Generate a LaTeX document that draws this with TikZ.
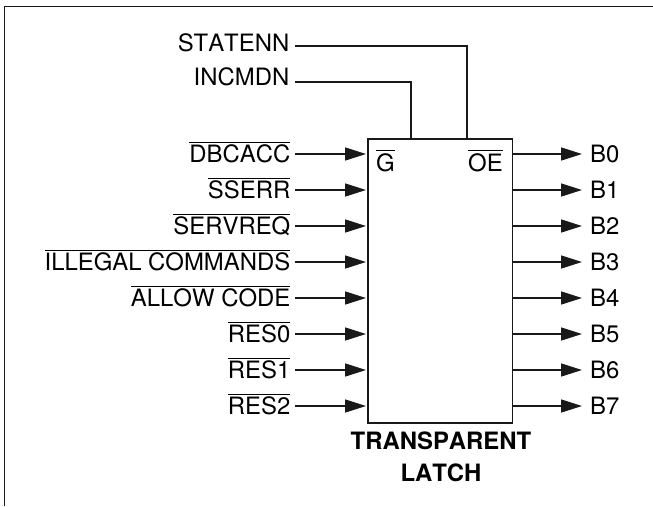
\documentclass[tikz,border=0pt]{standalone}
\usepackage{fontspec}
\setmainfont[Kerning=Off]{TeX Gyre Heros}
\usetikzlibrary{arrows.meta}
\tikzset{
  x=1pt,y=-1pt,
  wire/.style={line width=1.5pt,black!90},
  sig/.style={wire,-{Triangle[length=21pt,width=13pt]}},
  lbl/.style={inner sep=0pt,font=\fontsize{23.9}{26}\selectfont,anchor=base east},
  rlbl/.style={inner sep=0pt,font=\fontsize{23.9}{26}\selectfont,anchor=base west},
  captxt/.style={inner sep=0pt,font=\fontsize{23.9}{26}\selectfont\bfseries,anchor=base},
}
\newcommand{\ovl}[1]{\setbox0=\hbox{#1}\rlap{\rule[20pt]{\wd0}{0.9pt}}\box0}
\begin{document}
\begin{tikzpicture}
\useasboundingbox (0,0) rectangle (653,506);
\draw[wire] (4.5,506) -- (4.5,6.5) -- (653,6.5);
\node[draw=black!90,line width=1.5pt,minimum width=144.5pt,minimum height=284pt,inner sep=0pt,anchor=north west] (latch) at (367,138) {};
\node[lbl] (st) at (289.5,51.5) {STATENN};
\node[lbl] (ic) at (289.5,85.5) {INCMDN};
\coordinate (g) at (411,138);
\coordinate (oe) at (467,138);
\coordinate (sts) at (295,46);
\coordinate (ics) at (295,82);
\draw[wire] (sts) -| (oe);
\draw[wire] (ics) -| (g);
\foreach \i/\t in {0/DBCACC,1/SSERR,2/SERVREQ,3/ILLEGAL COMMANDS,4/ALLOW CODE,5/RES0,6/RES1,7/RES2}{
  \node[lbl] (in\i) at (290.5,162.5+36*\i) {\ovl{\t}};
  \coordinate (ins\i) at (295,154+36*\i);
  \coordinate (ine\i) at (366,154+36*\i);
  \draw[sig] (ins\i) -- (ine\i);
  \coordinate (outs\i) at (512,154+36*\i);
  \coordinate (oute\i) at (582,154+36*\i);
  \draw[sig] (outs\i) -- (oute\i);
  \node[rlbl] (b\i) at (590,162+36*\i) {B\i};
}
\node[rlbl] (gl) at (376,171) {\ovl{G}};
\node[rlbl] (oel) at (468,171) {\ovl{OE}};
\node[captxt] (t1) at (441,449.5) {TRANSPARENT};
\node[captxt] (t2) at (441,481.5) {LATCH};
\end{tikzpicture}
\end{document}
